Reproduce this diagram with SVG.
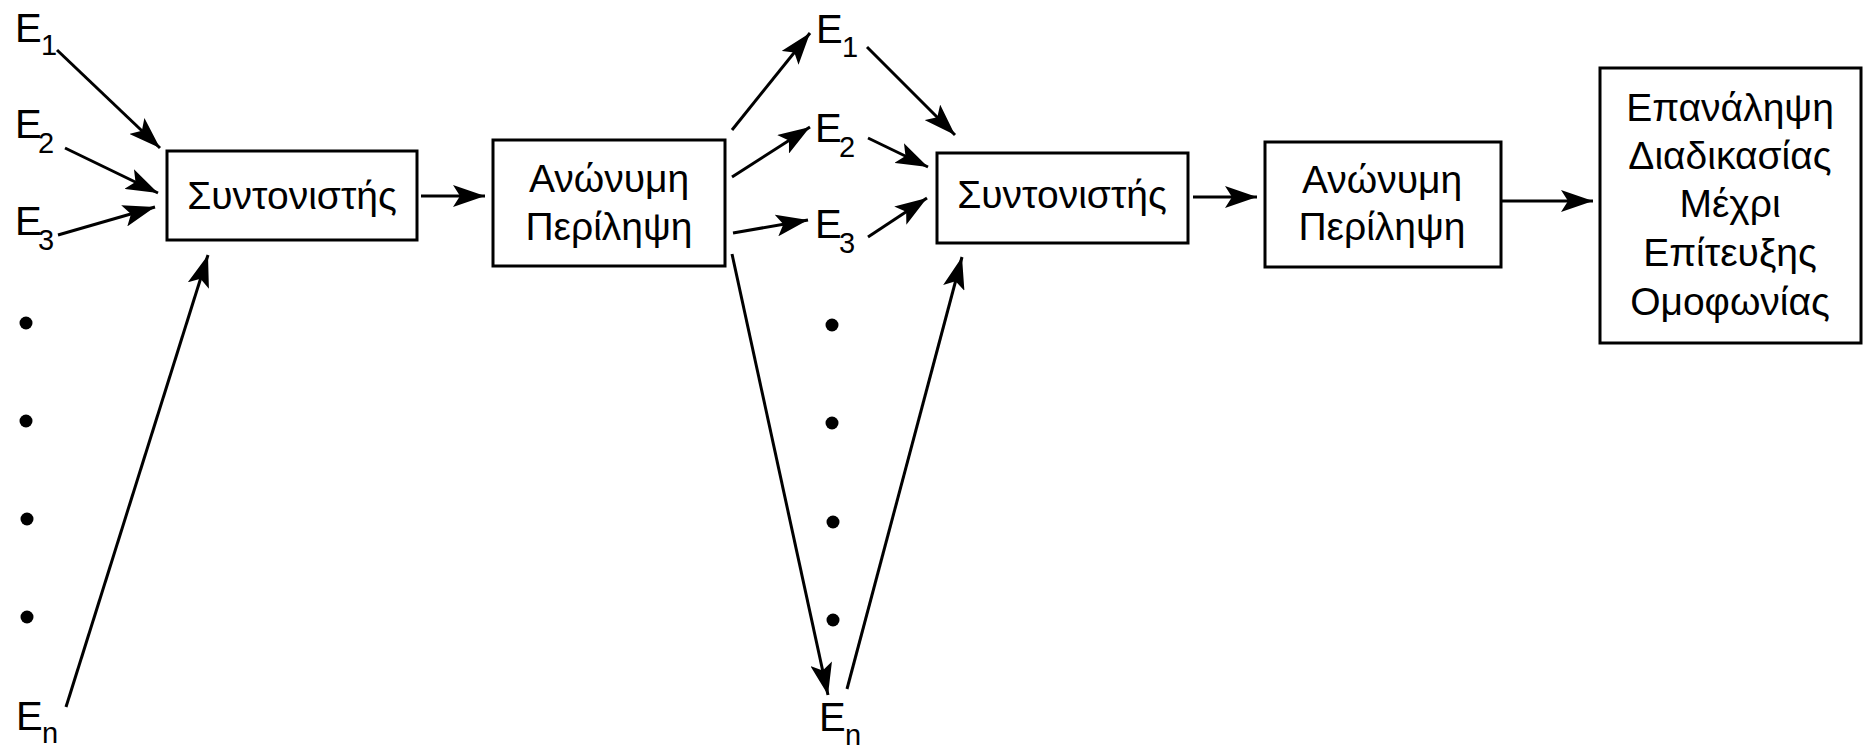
<svg xmlns="http://www.w3.org/2000/svg" width="1871" height="748" viewBox="0 0 1871 748">
<style>
.box{fill:#fff;stroke:#000;stroke-width:3}
.t{font-family:"Liberation Sans",Arial,sans-serif;font-size:39px;fill:#000}
.e{font-family:"Liberation Sans",Arial,sans-serif;font-size:40px;fill:#000}
.s{font-family:"Liberation Sans",Arial,sans-serif;font-size:29px;fill:#000}
.c{fill:none;stroke:#000;stroke-width:3}
.d{fill:#000}
</style>
<defs>
<marker id="ah" markerUnits="userSpaceOnUse" markerWidth="34" markerHeight="22" refX="32" refY="11" orient="auto">
<path d="M0,0 L32,11 L0,22 L7,11 z" fill="#000"/>
</marker>
</defs>
<rect width="1871" height="748" fill="#fff"/>
<g id="connectors">
<line class="c" x1="57" y1="50" x2="160" y2="148" marker-end="url(#ah)"/>
<line class="c" x1="65" y1="148" x2="158" y2="193" marker-end="url(#ah)"/>
<line class="c" x1="58" y1="235" x2="155" y2="207" marker-end="url(#ah)"/>
<line class="c" x1="66" y1="707" x2="208" y2="255" marker-end="url(#ah)"/>
<line class="c" x1="421" y1="196" x2="485" y2="196" marker-end="url(#ah)"/>
<line class="c" x1="732" y1="130" x2="810" y2="33" marker-end="url(#ah)"/>
<line class="c" x1="732" y1="177" x2="810" y2="127" marker-end="url(#ah)"/>
<line class="c" x1="733" y1="233" x2="808" y2="220" marker-end="url(#ah)"/>
<line class="c" x1="732" y1="254" x2="828" y2="695" marker-end="url(#ah)"/>
<line class="c" x1="867" y1="47" x2="955" y2="135" marker-end="url(#ah)"/>
<line class="c" x1="868" y1="138" x2="928" y2="167" marker-end="url(#ah)"/>
<line class="c" x1="868" y1="237" x2="927" y2="198" marker-end="url(#ah)"/>
<line class="c" x1="847" y1="689" x2="962" y2="257" marker-end="url(#ah)"/>
<line class="c" x1="1193" y1="197" x2="1257" y2="197" marker-end="url(#ah)"/>
<line class="c" x1="1502" y1="201" x2="1593" y2="201" marker-end="url(#ah)"/>
</g>
<g id="E1a"><text class="e" x="15" y="42">E</text><text class="s" x="41" y="55">1</text></g>
<g id="E2a"><text class="e" x="15" y="138">E</text><text class="s" x="38" y="153">2</text></g>
<g id="E3a"><text class="e" x="15" y="235">E</text><text class="s" x="38" y="250">3</text></g>
<g id="dotsA"><circle class="d" cx="26" cy="323" r="6.5"/><circle class="d" cx="26" cy="421" r="6.5"/><circle class="d" cx="27" cy="519" r="6.5"/><circle class="d" cx="27" cy="617" r="6.5"/></g>
<g id="Ena"><text class="e" x="16" y="730">E</text><text class="s" x="42" y="743">n</text></g>
<g id="coord1"><rect class="box" x="167" y="151" width="250" height="89"/><text class="t" x="292" y="209" text-anchor="middle">Συντονιστής</text></g>
<g id="summary1"><rect class="box" x="493" y="140" width="232" height="126"/><text class="t" x="609" y="192" text-anchor="middle">Ανώνυμη</text><text class="t" x="609" y="240" text-anchor="middle">Περίληψη</text></g>
<g id="E1b"><text class="e" x="816" y="43">E</text><text class="s" x="842" y="57">1</text></g>
<g id="E2b"><text class="e" x="815" y="142">E</text><text class="s" x="839" y="157">2</text></g>
<g id="E3b"><text class="e" x="815" y="238">E</text><text class="s" x="839" y="253">3</text></g>
<g id="dotsB"><circle class="d" cx="832" cy="325" r="6.5"/><circle class="d" cx="832" cy="423" r="6.5"/><circle class="d" cx="833" cy="522" r="6.5"/><circle class="d" cx="833" cy="620" r="6.5"/></g>
<g id="Enb"><text class="e" x="819" y="731">E</text><text class="s" x="845" y="745">n</text></g>
<g id="coord2"><rect class="box" x="937" y="153" width="251" height="90"/><text class="t" x="1062" y="208" text-anchor="middle">Συντονιστής</text></g>
<g id="summary2"><rect class="box" x="1265" y="142" width="236" height="125"/><text class="t" x="1382" y="193" text-anchor="middle">Ανώνυμη</text><text class="t" x="1382" y="240" text-anchor="middle">Περίληψη</text></g>
<g id="repeat"><rect class="box" x="1600" y="68" width="261" height="275"/>
<text class="t" x="1730" y="121" text-anchor="middle">Επανάληψη</text>
<text class="t" x="1730" y="169" text-anchor="middle">Διαδικασίας</text>
<text class="t" x="1730" y="217" text-anchor="middle">Μέχρι</text>
<text class="t" x="1730" y="266" text-anchor="middle">Επίτευξης</text>
<text class="t" x="1730" y="315" text-anchor="middle">Ομοφωνίας</text></g>
</svg>
